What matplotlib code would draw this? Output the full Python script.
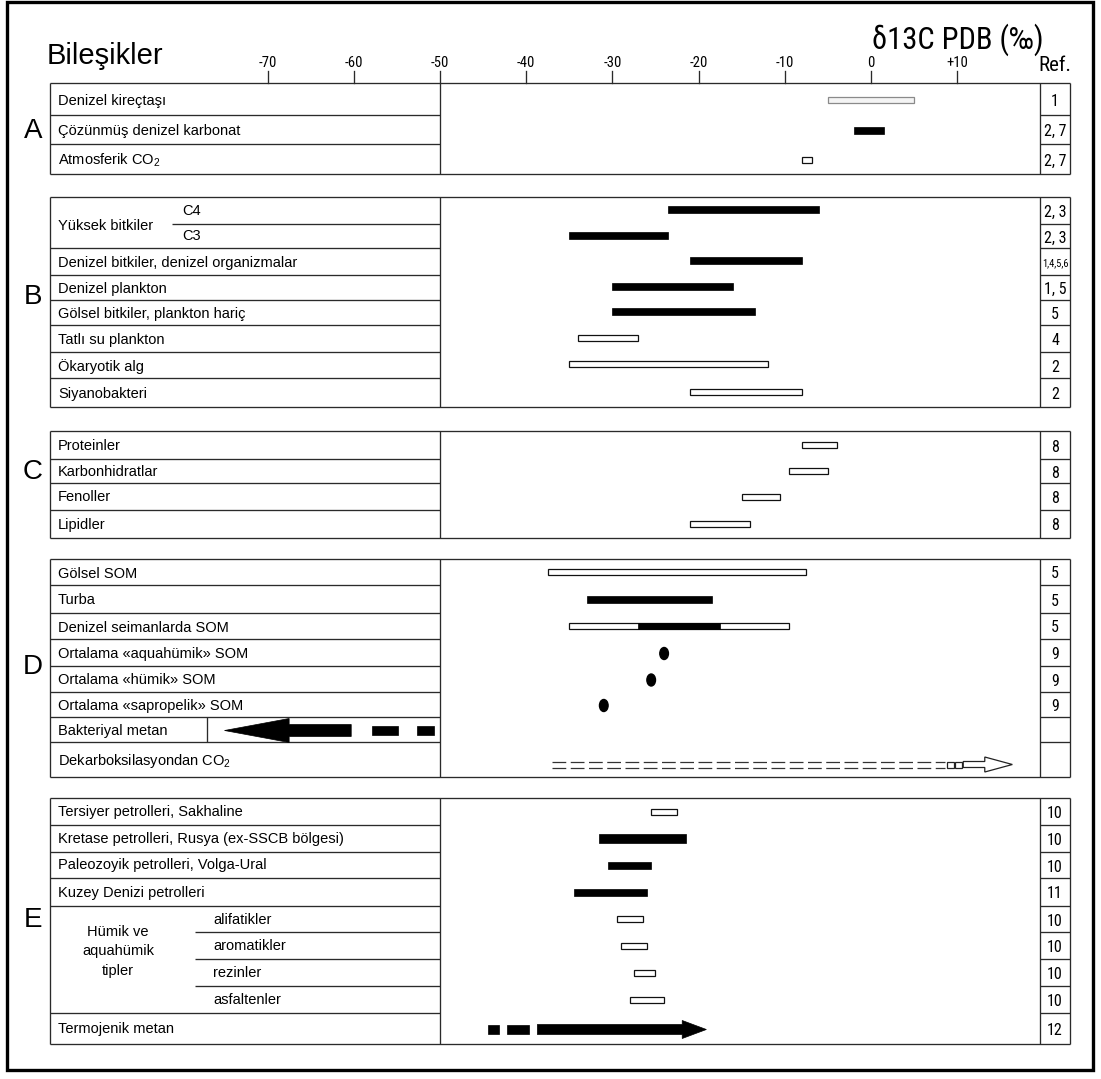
import matplotlib
matplotlib.use("Agg")
import matplotlib.pyplot as plt
from matplotlib import font_manager
from matplotlib.patches import Rectangle, Polygon, Ellipse
from matplotlib.transforms import blended_transform_factory

W, H = 1101, 1079

# δ13C scale: pixel column of -50 ‰ and pixels per ‰
X_REF_PX, X_REF_VAL, PX_PER_UNIT = 440, -50.0, 8.62
XMIN = X_REF_VAL - X_REF_PX / PX_PER_UNIT
XMAX = X_REF_VAL + (W - X_REF_PX) / PX_PER_UNIT

ticks = [-70, -60, -50, -40, -30, -20, -10, 0, 10]
tick_labels = ["-70", "-60", "-50", "-40", "-30", "-20", "-10", "0", "+10"]

# A - carbonates
a_labels = ["Denizel kireçtaşı", "Çözünmüş denizel karbonat", "Atmosferik CO$_2$"]
a_lo = [-5.0, -2.0, -8.0]
a_hi = [5.0, 1.5, -6.8]
a_kind = ["grey", "solid", "open"]
a_refs = ["1", "2, 7", "2, 7"]

# B - living organisms
b_labels = ["C4", "C3", "Denizel bitkiler, denizel organizmalar", "Denizel plankton",
            "Gölsel bitkiler, plankton hariç", "Tatlı su plankton", "Ökaryotik alg",
            "Siyanobakteri"]
b_lo = [-23.5, -35.0, -21.0, -30.0, -30.0, -34.0, -35.0, -21.0]
b_hi = [-6.0, -23.5, -8.0, -16.0, -13.5, -27.0, -12.0, -8.0]
b_kind = ["solid", "solid", "solid", "solid", "solid", "open", "open", "open"]
b_refs = ["2, 3", "2, 3", "1,4,5,6", "1, 5", "5", "4", "2", "2"]

# C - biochemical fractions
c_labels = ["Proteinler", "Karbonhidratlar", "Fenoller", "Lipidler"]
c_lo = [-8.0, -9.5, -15.0, -21.0]
c_hi = [-4.0, -5.0, -10.5, -14.0]
c_kind = ["open", "open", "open", "open"]
c_refs = ["8", "8", "8", "8"]

# D - sedimentary organic matter
d_labels = ["Gölsel SOM", "Turba", "Denizel seimanlarda SOM", "Ortalama «aquahümik» SOM",
            "Ortalama «hümik» SOM", "Ortalama «sapropelik» SOM", "Bakteriyal metan",
            "Dekarboksilasyondan CO$_2$"]
d_lo = [-37.5, -33.0, -35.0]
d_hi = [-7.5, -18.5, -9.5]
d_kind = ["open", "solid", "open"]
d_core = (-27.0, -17.5)             # dominant range in marine sediments
d_means = [-24.0, -25.5, -31.0]     # average SOM values
d_refs = ["5", "5", "5", "9", "9", "9", "", ""]

# bacterial methane: arrow tip, head base, shaft end, then dashes
bact_arrow = (-75.0, -67.5, -60.3)
bact_dashes = [(-57.9, -54.9), (-52.7, -50.7)]
# CO2 from decarboxylation: dashed run, two boxes, open arrow
decarb_dash = (-37.0, 8.6)
decarb_boxes = [(8.8, 9.6), (9.7, 10.5)]
decarb_arrow = (10.7, 13.2, 16.4)

# E - petroleum
e_labels = ["Tersiyer petrolleri, Sakhaline", "Kretase petrolleri, Rusya (ex-SSCB bölgesi)",
            "Paleozoyik petrolleri, Volga-Ural", "Kuzey Denizi petrolleri",
            "alifatikler", "aromatikler", "rezinler", "asfaltenler", "Termojenik metan"]
e_lo = [-25.5, -31.5, -30.5, -34.5, -29.5, -29.0, -27.5, -28.0]
e_hi = [-22.5, -21.5, -25.5, -26.0, -26.5, -26.0, -25.0, -24.0]
e_kind = ["open", "thick", "solid", "solid", "open", "open", "open", "open"]
e_refs = ["10", "10", "10", "11", "10", "10", "10", "10", "12"]
thermo_dashes = [(-44.4, -43.1), (-42.2, -39.7)]
thermo_arrow = (-38.7, -21.9, -19.1)

# row boundaries (pixel rows)
A_EDGES = [83, 115, 144, 174]
B_EDGES = [197, 224, 248, 275, 300, 325, 352, 378, 407]
C_EDGES = [431, 459, 483, 510, 538]
D_EDGES = [559, 585, 613, 639, 666, 692, 717, 742, 777]
E_EDGES = [798, 825, 852, 878, 906, 932, 959, 986, 1013, 1044]

BOX_L, SPLIT, REF_L, BOX_R = 50, 440, 1040, 1070
LABEL_X = 58
LINE = "#2a2a2a"
LW = 0.95

SANS = ["Liberation Sans", "DejaVu Sans"]
fonts = font_manager.fontManager.ttflist
names = {f.name for f in fonts}
NARROW, NARROW_STRETCH, NS = SANS, "normal", 0.86
for cand in ["Liberation Sans Narrow", "Roboto Condensed", "Open Sans Condensed"]:
    if cand in names:
        NARROW, NS = [cand, "DejaVu Sans"], 1.0
        break
else:
    for f in fonts:
        if f.name in ("DejaVu Sans", "Roboto", "Open Sans") and "condensed" in str(f.stretch):
            NARROW, NARROW_STRETCH, NS = [f.name], "condensed", 0.92
            break

plt.rcParams["font.family"] = SANS
plt.rcParams["mathtext.fontset"] = "custom"
plt.rcParams["mathtext.rm"] = "Liberation Sans"
plt.rcParams["mathtext.it"] = "Liberation Sans"

STYLE = {
    "solid": dict(h=7, fc="black", ec="black", lw=0.5),
    "thick": dict(h=9, fc="black", ec="black", lw=0.5),
    "open": dict(h=6, fc="white", ec="#111111", lw=0.9),
    "grey": dict(h=6, fc="#f4f4f4", ec="#8a8a8a", lw=0.9),
}

fig = plt.figure(figsize=(W / 100, H / 100), dpi=100)
fig.patch.set_facecolor("white")
ax = fig.add_axes([0, 0, 1, 1])
ax.set_xlim(XMIN, XMAX)
ax.set_ylim(H, 0)
ax.axis("off")
tr = blended_transform_factory(ax.transAxes, ax.transData)


def fx(px):
    return px / W


def narrow_text(x, y, s, size, **kw):
    return ax.text(x, y, s, fontsize=size * NS, family=NARROW, fontstretch=NARROW_STRETCH, **kw)


def hline(x0, x1, y):
    ax.plot([fx(x0), fx(x1)], [y, y], color=LINE, lw=LW, transform=tr, solid_capstyle="butt")


def vline(x, y0, y1):
    ax.plot([fx(x), fx(x)], [y0, y1], color=LINE, lw=LW, transform=tr, solid_capstyle="butt")


def section_box(edges, short=(), letter="", letter_y=None):
    top, bottom = edges[0], edges[-1]
    hline(BOX_L, BOX_R, top)
    hline(BOX_L, BOX_R, bottom)
    vline(BOX_L, top, bottom)
    vline(SPLIT, top, bottom)
    vline(REF_L, top, bottom)
    vline(BOX_R, top, bottom)
    for i, y in enumerate(edges[1:-1], start=1):
        hline(short[i] if i in short else BOX_L, SPLIT, y)
        hline(REF_L, BOX_R, y)
    ax.text(fx(33), letter_y, letter, transform=tr, fontsize=20, ha="center", va="center")


def centers(edges):
    return [(a + b) / 2 for a, b in zip(edges[:-1], edges[1:])]


def bar(lo, hi, y, kind):
    s = STYLE[kind]
    return ax.add_patch(Rectangle((lo, y - s["h"] / 2), hi - lo, s["h"], facecolor=s["fc"],
                                  edgecolor=s["ec"], lw=s["lw"], zorder=3))


def row_text(label, y, x=LABEL_X, **kw):
    ax.text(fx(x), y + 1.5, label, transform=tr, fontsize=10.5, va="center", ha="left", **kw)


def ref_text(ref, y):
    size = 7.5 if len(ref) > 4 else 11.5
    narrow_text(fx((REF_L + BOX_R) / 2), y + 2, ref, size, transform=tr, ha="center",
                va="center")


def arrow(x_tail, x_base, x_tip, y, shaft, head, **kw):
    pts = [(x_tail, y - shaft / 2), (x_base, y - shaft / 2), (x_base, y - head / 2),
           (x_tip, y), (x_base, y + head / 2), (x_base, y + shaft / 2), (x_tail, y + shaft / 2)]
    ax.add_patch(Polygon(pts, closed=True, zorder=3, **kw))


# outer frame
fig.add_artist(Rectangle((7 / W, 1 - 1070 / H), 1086 / W, 1068 / H, transform=fig.transFigure,
                         fill=False, ec="black", lw=2.4))

# header
ax.text(fx(47), 64, "Bileşikler", transform=tr, fontsize=21, va="baseline")
narrow_text(fx(872), 49, "δ13C PDB (‰)", 22, transform=tr, va="baseline")
narrow_text(fx(1055), 71, "Ref.", 15, transform=tr, ha="center", va="baseline")
for t, lab in zip(ticks, tick_labels):
    ax.plot([t, t], [A_EDGES[0] - 12, A_EDGES[0]], color=LINE, lw=LW)
    narrow_text(t, A_EDGES[0] - 16, lab, 10.5, ha="center", va="baseline")

# A
section_box(A_EDGES, letter="A", letter_y=131)
for lab, lo, hi, k, r, y in zip(a_labels, a_lo, a_hi, a_kind, a_refs, centers(A_EDGES)):
    row_text(lab, y)
    bar(lo, hi, y + 1, k)
    ref_text(r, y)

# B
section_box(B_EDGES, short={1: 172}, letter="B", letter_y=297)
yb = centers(B_EDGES)
row_text("Yüksek bitkiler", B_EDGES[1])
for i, (lab, lo, hi, k, r, y) in enumerate(zip(b_labels, b_lo, b_hi, b_kind, b_refs, yb)):
    if i < 2:
        ax.text(fx(192), y + 0.5, lab, transform=tr, fontsize=10.5, ha="center", va="center")
    else:
        row_text(lab, y)
    bar(lo, hi, y - 1, k)
    ref_text(r, y)

# C
section_box(C_EDGES, letter="C", letter_y=472)
for lab, lo, hi, k, r, y in zip(c_labels, c_lo, c_hi, c_kind, c_refs, centers(C_EDGES)):
    row_text(lab, y - 1)
    bar(lo, hi, y, k)
    ref_text(r, y)

# D
section_box(D_EDGES, letter="D", letter_y=667)
yd = centers(D_EDGES)
vline(207, D_EDGES[6], D_EDGES[7])
for lab, r, y in zip(d_labels, d_refs, yd):
    row_text(lab, y)
    ref_text(r, y)
for lo, hi, k, y in zip(d_lo, d_hi, d_kind, yd):
    bar(lo, hi, y, k)
core = bar(d_core[0], d_core[1], yd[2], "solid")
core.set_height(6)
core.set_y(yd[2] - 3)
for m, y in zip(d_means, yd[3:6]):
    ax.add_patch(Ellipse((m, y + 1), 1.0, 12, color="black", zorder=3))

yy = yd[6] + 1
arrow(bact_arrow[2], bact_arrow[1], bact_arrow[0], yy, 12, 24, fc="black", ec="black", lw=0.5)
for lo, hi in bact_dashes:
    bar(lo, hi, yy, "thick")

yy = yd[7] + 5
for dy in (-3, 3):
    ax.plot([decarb_dash[0], decarb_dash[1]], [yy + dy, yy + dy], color="#333333", lw=0.9,
            ls=(0, (11, 3.6)))
for lo, hi in decarb_boxes:
    ax.add_patch(Rectangle((lo, yy - 3), hi - lo, 6, fc="white", ec="#222222", lw=0.9, zorder=3))
arrow(decarb_arrow[0], decarb_arrow[1], decarb_arrow[2], yy, 6, 15, fc="white", ec="#222222",
      lw=0.9)

# E
section_box(E_EDGES, short={5: 195, 6: 195, 7: 195}, letter="E", letter_y=920)
ye = centers(E_EDGES)
for i, (lab, r, y) in enumerate(zip(e_labels, e_refs, ye)):
    if 4 <= i <= 7:
        row_text(lab, y - 1, x=213)
    else:
        row_text(lab, y - 1)
    ref_text(r, y)
# group label spans the four fraction sub-rows
ax.text(fx(118), ye[5] + 6, "Hümik ve\naquahümik\ntipler", transform=tr,
        fontsize=10.5, ha="center", va="center", linespacing=1.5)
for lo, hi, k, y in zip(e_lo, e_hi, e_kind, ye):
    bar(lo, hi, y, k)
yy = ye[8] + 1
for lo, hi in thermo_dashes:
    bar(lo, hi, yy, "thick")
arrow(thermo_arrow[0], thermo_arrow[1], thermo_arrow[2], yy, 10, 18, fc="black", ec="black",
      lw=0.5)

fig.savefig("out.png", dpi=100, facecolor="white")
